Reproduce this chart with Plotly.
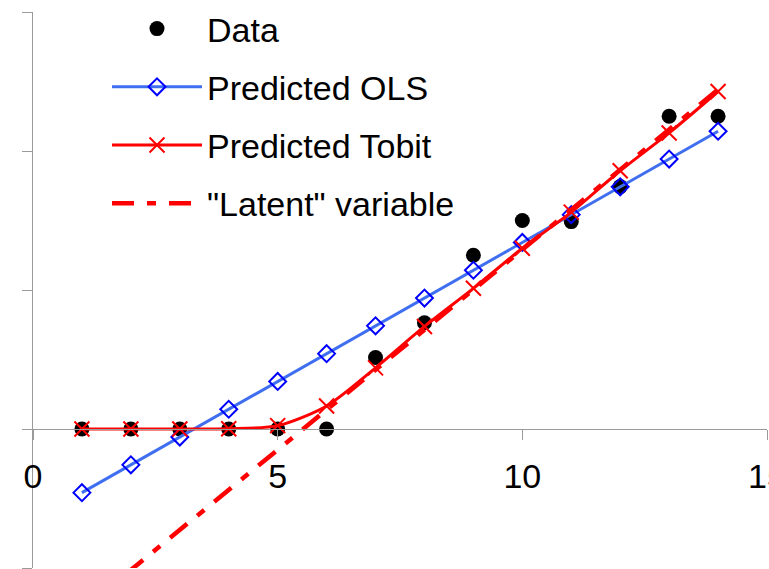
import plotly.graph_objects as go

x_vals = [1, 2, 3, 4, 5, 6, 7, 8, 9, 10, 11, 12, 13, 14]
data_y = [0, 0, 0, 0, 0, 0, 2.57, 3.82, 6.25, 7.5, 7.46, 8.72, 11.25, 11.25]
ols_y = [-2.29, -1.29, -0.29, 0.71, 1.71, 2.71, 3.71, 4.71, 5.71, 6.71, 7.71, 8.71, 9.71, 10.71]
tobit_y = [0, 0, 0, 0.01, 0.12, 0.83, 2.2, 3.69, 5.06, 6.5, 7.8, 9.29, 10.65, 12.14]
latent_y = [-6.51, -5.07, -3.63, -2.19, -0.75, 0.69, 2.13, 3.57, 5.01, 6.45, 7.89, 9.33, 10.77, 12.21]

x_ticks = [0, 5, 10, 15]
y_ticks = [-5, 0, 5, 10, 15]

FONT = "Liberation Sans, Arial, sans-serif"
GRAY = "#9a9a9a"

fig = go.Figure()
fig.add_trace(go.Scatter(
    x=x_vals, y=data_y, name="Data", mode="markers", legendgroup="a",
    marker=dict(symbol="circle", size=15, color="black"),
))
fig.add_trace(go.Scatter(
    x=x_vals, y=ols_y, name="Predicted OLS", mode="lines+markers", legendgroup="b",
    line=dict(color="#3f6ff0", width=3),
    marker=dict(symbol="diamond-open", size=13, color="#0000ff", line=dict(width=2, color="#0000ff")),
))
fig.add_trace(go.Scatter(
    x=x_vals, y=tobit_y, name="Predicted Tobit", mode="lines+markers", legendgroup="c",
    line=dict(color="#ff0000", width=3, shape="spline", smoothing=0.8),
    marker=dict(symbol="x-thin-open", size=15, color="#ff0000", line=dict(width=2, color="#ff0000")),
))
fig.add_trace(go.Scatter(
    x=x_vals, y=latent_y, name="\"Latent\" variable", mode="lines", legendgroup="d",
    line=dict(color="#ff0000", width=4.5, dash="22px,13px,9px,13px"),
))

fig.update_layout(
    width=769, height=569,
    margin=dict(l=33, r=2, t=12, b=1, autoexpand=False),
    paper_bgcolor="white", plot_bgcolor="white",
    font=dict(family=FONT, size=34, color="black"),
    showlegend=True,
    legend=dict(
        xref="container", yref="container",
        x=107 / 769, y=1.032, xanchor="left", yanchor="top",
        bgcolor="rgba(0,0,0,0)", borderwidth=0,
        font=dict(family=FONT, size=34, color="black"),
        itemwidth=90, traceorder="grouped", tracegroupgap=11,
    ),
    xaxis=dict(
        range=[0, 15], tickvals=x_ticks, ticktext=[str(v) for v in x_ticks],
        anchor="free", position=0.25,
        showline=True, linecolor=GRAY, linewidth=1,
        ticks="outside", ticklen=10, tickcolor=GRAY, tickwidth=1,
        showgrid=False, zeroline=False,
        tickfont=dict(family=FONT, size=34, color="black"),
        ticklabelstandoff=7, ticklabeloverflow="allow",
    ),
    yaxis=dict(
        range=[-5, 15], tickvals=y_ticks, showticklabels=False,
        showline=True, linecolor=GRAY, linewidth=1,
        ticks="outside", ticklen=10, tickcolor=GRAY, tickwidth=1,
        showgrid=False, zeroline=False,
    ),
)

fig.write_html("out.html", config={"displayModeBar": False},
               post_script="document.body.style.margin='0';")
